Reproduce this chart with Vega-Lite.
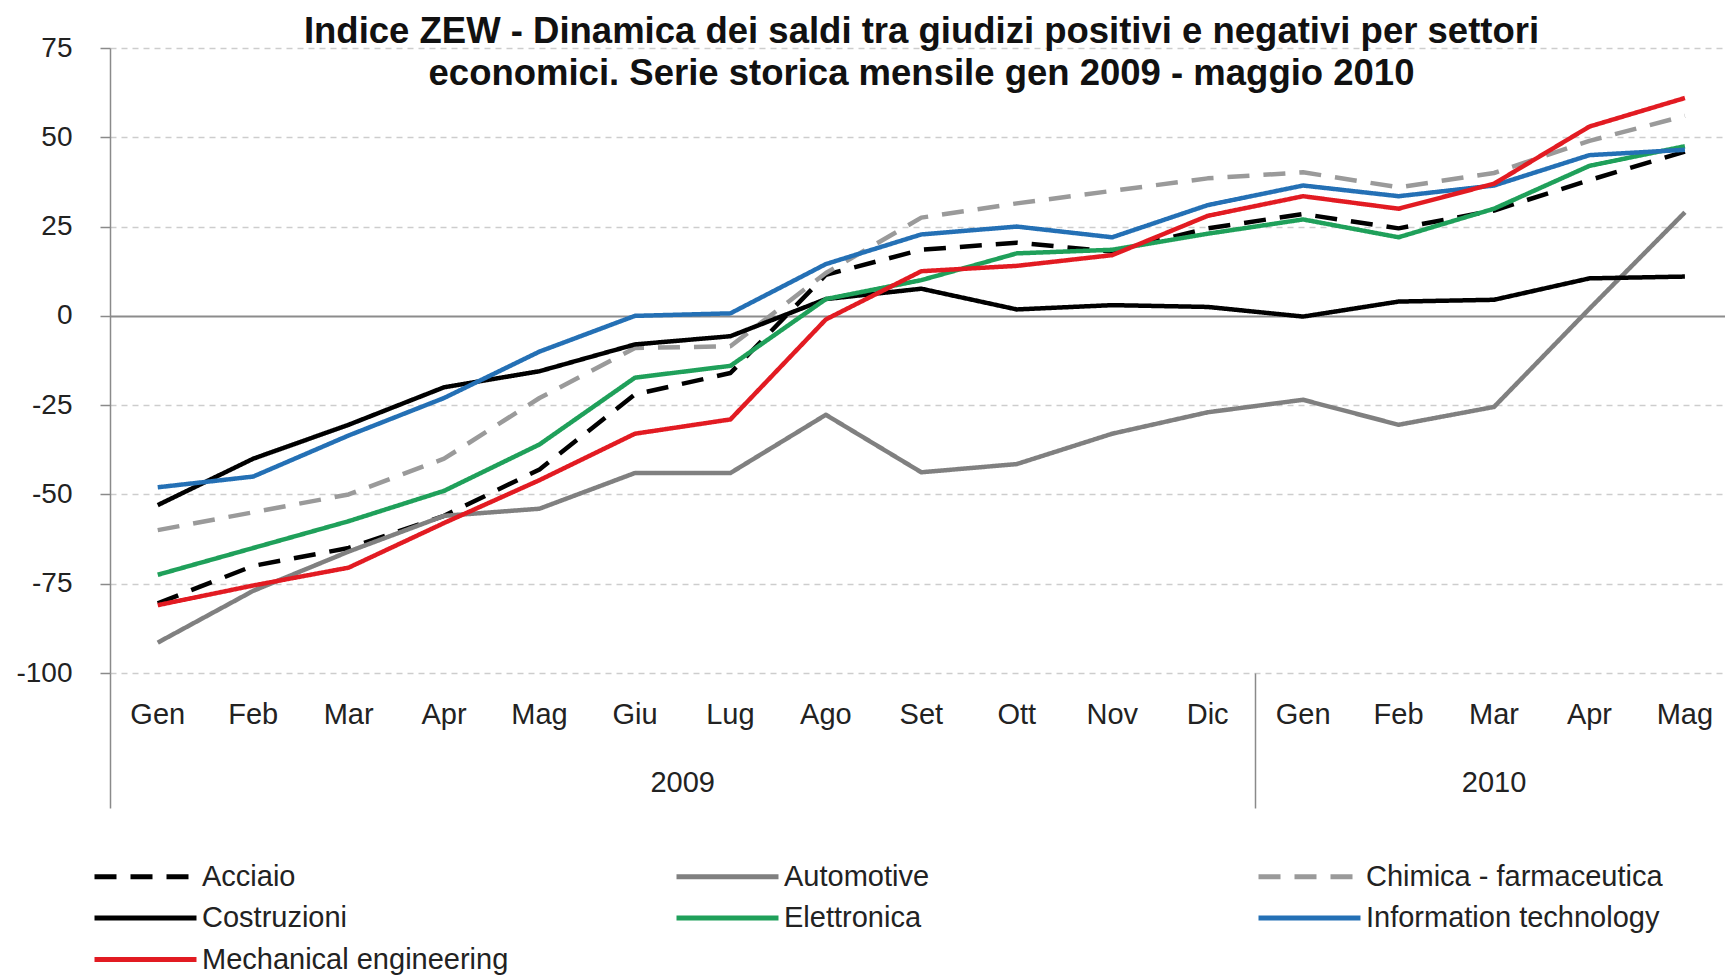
{
  "$schema": "https://vega.github.io/schema/vega-lite/v6.json",
  "width": 1615,
  "height": 625,
  "autosize": {"type": "none"},
  "padding": {"left": 110, "top": 48, "right": 0, "bottom": 303},
  "background": "white",
  "title": {
    "text": ["Indice ZEW - Dinamica dei saldi tra giudizi positivi e negativi per settori", "economici. Serie storica mensile gen 2009 - maggio 2010"],
    "font": "Liberation Sans",
    "fontSize": 36.5,
    "fontWeight": "bold",
    "color": "#111111",
    "lineHeight": 42,
    "anchor": "middle",
    "offset": -58,
    "dx": 4
  },
  "data": {
    "values": [
      {"series": "Acciaio", "year": "2009", "month": "Gen", "idx": 0, "value": -80.5},
      {"series": "Acciaio", "year": "2009", "month": "Feb", "idx": 1, "value": -70},
      {"series": "Acciaio", "year": "2009", "month": "Mar", "idx": 2, "value": -65},
      {"series": "Acciaio", "year": "2009", "month": "Apr", "idx": 3, "value": -56},
      {"series": "Acciaio", "year": "2009", "month": "Mag", "idx": 4, "value": -43},
      {"series": "Acciaio", "year": "2009", "month": "Giu", "idx": 5, "value": -22},
      {"series": "Acciaio", "year": "2009", "month": "Lug", "idx": 6, "value": -16},
      {"series": "Acciaio", "year": "2009", "month": "Ago", "idx": 7, "value": 11.5},
      {"series": "Acciaio", "year": "2009", "month": "Set", "idx": 8, "value": 18.5},
      {"series": "Acciaio", "year": "2009", "month": "Ott", "idx": 9, "value": 20.5},
      {"series": "Acciaio", "year": "2009", "month": "Nov", "idx": 10, "value": 18},
      {"series": "Acciaio", "year": "2009", "month": "Dic", "idx": 11, "value": 24.5},
      {"series": "Acciaio", "year": "2010", "month": "Gen", "idx": 12, "value": 28.5},
      {"series": "Acciaio", "year": "2010", "month": "Feb", "idx": 13, "value": 24.5},
      {"series": "Acciaio", "year": "2010", "month": "Mar", "idx": 14, "value": 29.5},
      {"series": "Acciaio", "year": "2010", "month": "Apr", "idx": 15, "value": 38},
      {"series": "Acciaio", "year": "2010", "month": "Mag", "idx": 16, "value": 46},
      {"series": "Automotive", "year": "2009", "month": "Gen", "idx": 0, "value": -91.5},
      {"series": "Automotive", "year": "2009", "month": "Feb", "idx": 1, "value": -77},
      {"series": "Automotive", "year": "2009", "month": "Mar", "idx": 2, "value": -66},
      {"series": "Automotive", "year": "2009", "month": "Apr", "idx": 3, "value": -56},
      {"series": "Automotive", "year": "2009", "month": "Mag", "idx": 4, "value": -54},
      {"series": "Automotive", "year": "2009", "month": "Giu", "idx": 5, "value": -44},
      {"series": "Automotive", "year": "2009", "month": "Lug", "idx": 6, "value": -44},
      {"series": "Automotive", "year": "2009", "month": "Ago", "idx": 7, "value": -27.7},
      {"series": "Automotive", "year": "2009", "month": "Set", "idx": 8, "value": -43.8},
      {"series": "Automotive", "year": "2009", "month": "Ott", "idx": 9, "value": -41.5},
      {"series": "Automotive", "year": "2009", "month": "Nov", "idx": 10, "value": -33},
      {"series": "Automotive", "year": "2009", "month": "Dic", "idx": 11, "value": -27},
      {"series": "Automotive", "year": "2010", "month": "Gen", "idx": 12, "value": -23.5},
      {"series": "Automotive", "year": "2010", "month": "Feb", "idx": 13, "value": -30.5},
      {"series": "Automotive", "year": "2010", "month": "Mar", "idx": 14, "value": -25.5},
      {"series": "Automotive", "year": "2010", "month": "Apr", "idx": 15, "value": 2},
      {"series": "Automotive", "year": "2010", "month": "Mag", "idx": 16, "value": 29},
      {"series": "Chimica - farmaceutica", "year": "2009", "month": "Gen", "idx": 0, "value": -60},
      {"series": "Chimica - farmaceutica", "year": "2009", "month": "Feb", "idx": 1, "value": -55},
      {"series": "Chimica - farmaceutica", "year": "2009", "month": "Mar", "idx": 2, "value": -50},
      {"series": "Chimica - farmaceutica", "year": "2009", "month": "Apr", "idx": 3, "value": -40},
      {"series": "Chimica - farmaceutica", "year": "2009", "month": "Mag", "idx": 4, "value": -23},
      {"series": "Chimica - farmaceutica", "year": "2009", "month": "Giu", "idx": 5, "value": -9},
      {"series": "Chimica - farmaceutica", "year": "2009", "month": "Lug", "idx": 6, "value": -8.5},
      {"series": "Chimica - farmaceutica", "year": "2009", "month": "Ago", "idx": 7, "value": 12},
      {"series": "Chimica - farmaceutica", "year": "2009", "month": "Set", "idx": 8, "value": 27.5},
      {"series": "Chimica - farmaceutica", "year": "2009", "month": "Ott", "idx": 9, "value": 31.5},
      {"series": "Chimica - farmaceutica", "year": "2009", "month": "Nov", "idx": 10, "value": 35},
      {"series": "Chimica - farmaceutica", "year": "2009", "month": "Dic", "idx": 11, "value": 38.5},
      {"series": "Chimica - farmaceutica", "year": "2010", "month": "Gen", "idx": 12, "value": 40.2},
      {"series": "Chimica - farmaceutica", "year": "2010", "month": "Feb", "idx": 13, "value": 36},
      {"series": "Chimica - farmaceutica", "year": "2010", "month": "Mar", "idx": 14, "value": 40},
      {"series": "Chimica - farmaceutica", "year": "2010", "month": "Apr", "idx": 15, "value": 49},
      {"series": "Chimica - farmaceutica", "year": "2010", "month": "Mag", "idx": 16, "value": 56},
      {"series": "Costruzioni", "year": "2009", "month": "Gen", "idx": 0, "value": -53},
      {"series": "Costruzioni", "year": "2009", "month": "Feb", "idx": 1, "value": -40},
      {"series": "Costruzioni", "year": "2009", "month": "Mar", "idx": 2, "value": -30.5},
      {"series": "Costruzioni", "year": "2009", "month": "Apr", "idx": 3, "value": -20},
      {"series": "Costruzioni", "year": "2009", "month": "Mag", "idx": 4, "value": -15.5},
      {"series": "Costruzioni", "year": "2009", "month": "Giu", "idx": 5, "value": -8},
      {"series": "Costruzioni", "year": "2009", "month": "Lug", "idx": 6, "value": -5.7},
      {"series": "Costruzioni", "year": "2009", "month": "Ago", "idx": 7, "value": 4.7},
      {"series": "Costruzioni", "year": "2009", "month": "Set", "idx": 8, "value": 7.6},
      {"series": "Costruzioni", "year": "2009", "month": "Ott", "idx": 9, "value": 1.8},
      {"series": "Costruzioni", "year": "2009", "month": "Nov", "idx": 10, "value": 3},
      {"series": "Costruzioni", "year": "2009", "month": "Dic", "idx": 11, "value": 2.5},
      {"series": "Costruzioni", "year": "2010", "month": "Gen", "idx": 12, "value": -0.2},
      {"series": "Costruzioni", "year": "2010", "month": "Feb", "idx": 13, "value": 4},
      {"series": "Costruzioni", "year": "2010", "month": "Mar", "idx": 14, "value": 4.5},
      {"series": "Costruzioni", "year": "2010", "month": "Apr", "idx": 15, "value": 10.5},
      {"series": "Costruzioni", "year": "2010", "month": "Mag", "idx": 16, "value": 11},
      {"series": "Elettronica", "year": "2009", "month": "Gen", "idx": 0, "value": -72.5},
      {"series": "Elettronica", "year": "2009", "month": "Feb", "idx": 1, "value": -65},
      {"series": "Elettronica", "year": "2009", "month": "Mar", "idx": 2, "value": -57.5},
      {"series": "Elettronica", "year": "2009", "month": "Apr", "idx": 3, "value": -49},
      {"series": "Elettronica", "year": "2009", "month": "Mag", "idx": 4, "value": -36},
      {"series": "Elettronica", "year": "2009", "month": "Giu", "idx": 5, "value": -17.3},
      {"series": "Elettronica", "year": "2009", "month": "Lug", "idx": 6, "value": -14},
      {"series": "Elettronica", "year": "2009", "month": "Ago", "idx": 7, "value": 4.7},
      {"series": "Elettronica", "year": "2009", "month": "Set", "idx": 8, "value": 10},
      {"series": "Elettronica", "year": "2009", "month": "Ott", "idx": 9, "value": 17.5},
      {"series": "Elettronica", "year": "2009", "month": "Nov", "idx": 10, "value": 18.5},
      {"series": "Elettronica", "year": "2009", "month": "Dic", "idx": 11, "value": 23},
      {"series": "Elettronica", "year": "2010", "month": "Gen", "idx": 12, "value": 27},
      {"series": "Elettronica", "year": "2010", "month": "Feb", "idx": 13, "value": 22},
      {"series": "Elettronica", "year": "2010", "month": "Mar", "idx": 14, "value": 30},
      {"series": "Elettronica", "year": "2010", "month": "Apr", "idx": 15, "value": 42},
      {"series": "Elettronica", "year": "2010", "month": "Mag", "idx": 16, "value": 47.5},
      {"series": "Information technology", "year": "2009", "month": "Gen", "idx": 0, "value": -48},
      {"series": "Information technology", "year": "2009", "month": "Feb", "idx": 1, "value": -45},
      {"series": "Information technology", "year": "2009", "month": "Mar", "idx": 2, "value": -33.5},
      {"series": "Information technology", "year": "2009", "month": "Apr", "idx": 3, "value": -23},
      {"series": "Information technology", "year": "2009", "month": "Mag", "idx": 4, "value": -10},
      {"series": "Information technology", "year": "2009", "month": "Giu", "idx": 5, "value": 0},
      {"series": "Information technology", "year": "2009", "month": "Lug", "idx": 6, "value": 0.7},
      {"series": "Information technology", "year": "2009", "month": "Ago", "idx": 7, "value": 14.5},
      {"series": "Information technology", "year": "2009", "month": "Set", "idx": 8, "value": 22.8},
      {"series": "Information technology", "year": "2009", "month": "Ott", "idx": 9, "value": 25},
      {"series": "Information technology", "year": "2009", "month": "Nov", "idx": 10, "value": 22},
      {"series": "Information technology", "year": "2009", "month": "Dic", "idx": 11, "value": 31},
      {"series": "Information technology", "year": "2010", "month": "Gen", "idx": 12, "value": 36.5},
      {"series": "Information technology", "year": "2010", "month": "Feb", "idx": 13, "value": 33.5},
      {"series": "Information technology", "year": "2010", "month": "Mar", "idx": 14, "value": 36.5},
      {"series": "Information technology", "year": "2010", "month": "Apr", "idx": 15, "value": 45},
      {"series": "Information technology", "year": "2010", "month": "Mag", "idx": 16, "value": 46.5},
      {"series": "Mechanical engineering", "year": "2009", "month": "Gen", "idx": 0, "value": -81},
      {"series": "Mechanical engineering", "year": "2009", "month": "Feb", "idx": 1, "value": -75.5},
      {"series": "Mechanical engineering", "year": "2009", "month": "Mar", "idx": 2, "value": -70.5},
      {"series": "Mechanical engineering", "year": "2009", "month": "Apr", "idx": 3, "value": -58},
      {"series": "Mechanical engineering", "year": "2009", "month": "Mag", "idx": 4, "value": -46},
      {"series": "Mechanical engineering", "year": "2009", "month": "Giu", "idx": 5, "value": -33},
      {"series": "Mechanical engineering", "year": "2009", "month": "Lug", "idx": 6, "value": -29},
      {"series": "Mechanical engineering", "year": "2009", "month": "Ago", "idx": 7, "value": -1},
      {"series": "Mechanical engineering", "year": "2009", "month": "Set", "idx": 8, "value": 12.5},
      {"series": "Mechanical engineering", "year": "2009", "month": "Ott", "idx": 9, "value": 14},
      {"series": "Mechanical engineering", "year": "2009", "month": "Nov", "idx": 10, "value": 17},
      {"series": "Mechanical engineering", "year": "2009", "month": "Dic", "idx": 11, "value": 28},
      {"series": "Mechanical engineering", "year": "2010", "month": "Gen", "idx": 12, "value": 33.5},
      {"series": "Mechanical engineering", "year": "2010", "month": "Feb", "idx": 13, "value": 30},
      {"series": "Mechanical engineering", "year": "2010", "month": "Mar", "idx": 14, "value": 37},
      {"series": "Mechanical engineering", "year": "2010", "month": "Apr", "idx": 15, "value": 53},
      {"series": "Mechanical engineering", "year": "2010", "month": "Mag", "idx": 16, "value": 61}
    ]
  },
  "layer": [
    {
      "mark": {"type": "line", "strokeWidth": 4.5, "strokeJoin": "round"},
      "encoding": {
        "x": {
          "field": "idx",
          "type": "quantitative",
          "scale": {"domain": [-0.5, 16.42], "nice": false, "zero": false},
          "axis": {
            "title": null,
            "values": [-0.5, 11.5],
            "labels": false,
            "domain": false,
            "grid": false,
            "ticks": true,
            "tickSize": 135,
            "tickColor": "#8a8a8a",
            "tickWidth": 1.5
          }
        },
        "y": {
          "field": "value",
          "type": "quantitative",
          "scale": {"domain": [-100, 75], "nice": false, "zero": false},
          "axis": {
            "title": null,
            "values": [-100, -75, -50, -25, 0, 25, 50, 75],
            "labelExpr": "'' + datum.value",
            "labelFont": "Liberation Sans",
            "labelFontSize": 28,
            "labelColor": "#222222",
            "labelPadding": 28,
            "tickSize": 10,
            "tickColor": "#8a8a8a",
            "tickWidth": 1.5,
            "domainColor": "#8a8a8a",
            "domainWidth": 1.5,
            "grid": true,
            "gridColor": {"condition": {"test": "datum.value === 0", "value": "#8c8c8c"}, "value": "#cdcdcd"},
            "gridDash": {"condition": {"test": "datum.value === 0", "value": []}, "value": [6, 5]},
            "gridWidth": {"condition": {"test": "datum.value === 0", "value": 2}, "value": 1.3}
          }
        },
        "color": {
          "field": "series",
          "type": "nominal",
          "scale": {
            "domain": ["Acciaio", "Automotive", "Chimica - farmaceutica", "Costruzioni", "Elettronica", "Information technology", "Mechanical engineering"],
            "range": ["#000000", "#808080", "#9a9a9a", "#000000", "#1fa05a", "#2470b5", "#e21b22"]
          },
          "legend": {
            "title": null,
            "orient": "none",
            "legendX": -18,
            "legendY": 811,
            "direction": "horizontal",
            "columns": 3,
            "gridAlign": "all",
            "columnPadding": 157,
            "rowPadding": 8.5,
            "padding": 0,
            "symbolType": "M-1,0H5.8",
            "symbolSize": 900,
            "symbolStrokeWidth": 5,
            "labelFont": "Liberation Sans",
            "labelFontSize": 29,
            "labelColor": "#222222",
            "labelOffset": 75,
            "labelLimit": 600
          }
        },
        "strokeDash": {
          "field": "series",
          "type": "nominal",
          "scale": {
            "domain": ["Acciaio", "Automotive", "Chimica - farmaceutica", "Costruzioni", "Elettronica", "Information technology", "Mechanical engineering"],
            "range": [[22, 14], [1, 0], [22, 14], [1, 0], [1, 0], [1, 0], [1, 0]]
          },
          "legend": {
            "title": null,
            "orient": "none",
            "legendX": -18,
            "legendY": 811,
            "direction": "horizontal",
            "columns": 3,
            "gridAlign": "all",
            "columnPadding": 157,
            "rowPadding": 8.5,
            "padding": 0,
            "symbolType": "M-1,0H5.8",
            "symbolSize": 900,
            "symbolStrokeWidth": 5,
            "labelFont": "Liberation Sans",
            "labelFontSize": 29,
            "labelColor": "#222222",
            "labelOffset": 75,
            "labelLimit": 600
          }
        }
      }
    },
    {
      "transform": [{"aggregate": [{"op": "count", "as": "n"}], "groupby": ["idx", "month"]}],
      "mark": {"type": "text", "font": "Liberation Sans", "fontSize": 29, "color": "#222222", "baseline": "middle", "align": "center"},
      "encoding": {
        "x": {"field": "idx", "type": "quantitative"},
        "y": {"datum": -111.7},
        "text": {"field": "month", "type": "nominal"}
      }
    },
    {
      "transform": [{"aggregate": [{"op": "mean", "field": "idx", "as": "center"}], "groupby": ["year"]}],
      "mark": {"type": "text", "font": "Liberation Sans", "fontSize": 29, "color": "#222222", "baseline": "middle", "align": "center"},
      "encoding": {
        "x": {"field": "center", "type": "quantitative"},
        "y": {"datum": -130.7},
        "text": {"field": "year", "type": "nominal"}
      }
    }
  ],
  "config": {
    "view": {"stroke": null},
    "axis": {"labelFont": "Liberation Sans"}
  }
}
